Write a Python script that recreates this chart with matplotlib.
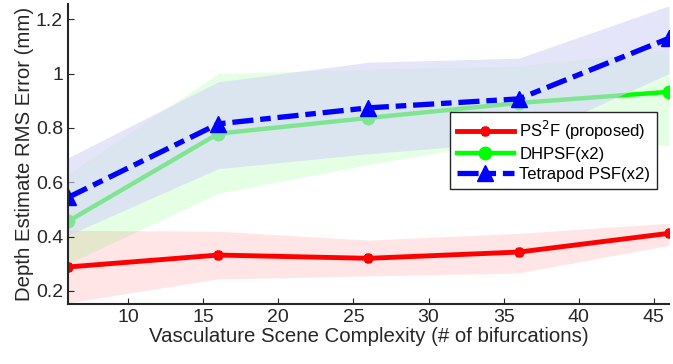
import numpy as np
import matplotlib.pyplot as plt

plt.rcParams['font.family'] = ['Liberation Sans', 'DejaVu Sans']

x = [6, 16, 26, 36, 46]

ps2f = [0.288, 0.332, 0.320, 0.343, 0.412]
ps2f_lo = [0.156, 0.244, 0.255, 0.266, 0.368]
ps2f_hi = [0.423, 0.420, 0.387, 0.412, 0.449]

dhpsf = [0.456, 0.779, 0.837, 0.892, 0.933]
dhpsf_lo = [0.300, 0.559, 0.665, 0.760, 0.735]
dhpsf_hi = [0.630, 1.000, 1.017, 1.028, 1.090]

tetra = [0.544, 0.815, 0.874, 0.907, 1.130]
tetra_lo = [0.405, 0.650, 0.705, 0.750, 1.000]
tetra_hi = [0.690, 0.970, 1.042, 1.057, 1.250]

fig = plt.figure(figsize=(6.73, 3.64), dpi=100)
ax = fig.add_axes([0.101, 0.165, 0.893, 0.823])

ax.fill_between(x, ps2f_lo, ps2f_hi, color=(1, 0, 0), alpha=0.1, lw=0, zorder=1)
ax.fill_between(x, dhpsf_lo, dhpsf_hi, color=(0, 1, 0), alpha=0.1, lw=0, zorder=1)
ax.plot(x, ps2f, color='red', lw=3.5, marker=(6, 2, 0), ms=7, mew=3,
        label=r'PS$^2$F (proposed)', zorder=2)
ax.plot(x, dhpsf, color=(0, 1, 0), lw=3.2, marker='o', ms=9,
        label='DHPSF(x2)', zorder=2)
# blue band sits over the green line, washing it out
ax.fill_between(x, tetra_lo, tetra_hi, color=(213/255, 213/255, 247/255),
                alpha=0.6, lw=0, zorder=3)
ax.plot(x, tetra, color='blue', lw=3.8, dashes=[4, 1.3, 2, 1.3],
        marker='^', ms=12, label='Tetrapod PSF(x2)', zorder=4)

ax.set_xlim(6, 46)
ax.set_ylim(0.152, 1.255)
ax.set_xticks([10, 15, 20, 25, 30, 35, 40, 45])
ax.set_yticks([0.2, 0.4, 0.6, 0.8, 1.0, 1.2])
ax.set_yticklabels(['0.2', '0.4', '0.6', '0.8', '1', '1.2'])
ax.tick_params(direction='in', length=4, labelsize=14, colors='#262626')
for s in ['top', 'right']:
    ax.spines[s].set_visible(False)
for s in ['left', 'bottom']:
    ax.spines[s].set_color('#262626')
    ax.spines[s].set_linewidth(1.5)
    ax.spines[s].set_zorder(5)

ax.set_xlabel('Vasculature Scene Complexity (# of bifurcations)', fontsize=14.7,
              color='#262626', labelpad=1)
ax.set_ylabel('Depth Estimate RMS Error (mm)', fontsize=14.7, color='#262626',
              labelpad=1)

leg = ax.legend(loc='upper left', bbox_to_anchor=(0.636, 0.64), fontsize=12,
                handlelength=3.4, fancybox=False, framealpha=1,
                borderpad=0.4, labelspacing=0.3, handletextpad=0.35,
                borderaxespad=0)
leg.get_frame().set_edgecolor('#262626')
leg.get_frame().set_linewidth(1)
leg.set_zorder(6)

plt.savefig('out.png', dpi=100)
